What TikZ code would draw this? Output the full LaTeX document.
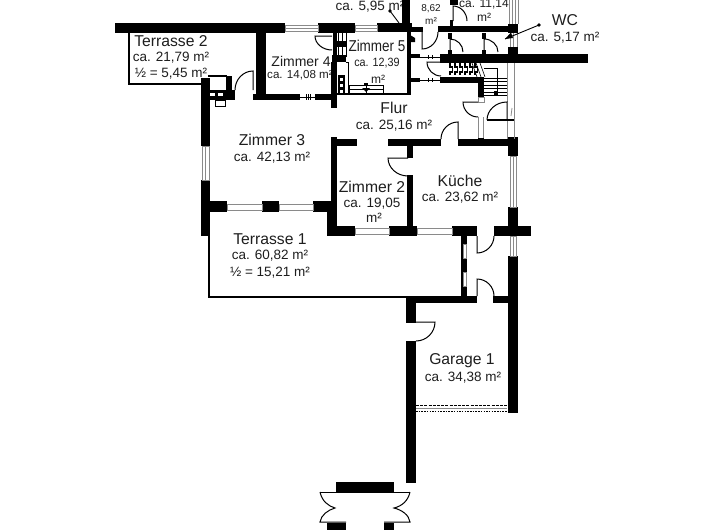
\documentclass[tikz,border=0pt]{standalone}
\usepackage{fontspec}
\setmainfont{Liberation Sans}
\usetikzlibrary{calc}
\definecolor{ink}{HTML}{1E1E1E}
\definecolor{wingray}{HTML}{8A8A8A}
\newcommand{\doorq}[3]{\draw[doorline] (#1) -- (#2) .. controls ($(#2)+.55*(#3)-.55*(#1)$) and ($(#3)+.55*(#2)-.55*(#1)$) .. (#3);}
\tikzset{
 x=1pt,y=-1pt,
 wallfill/.style={fill=black,draw=none},
 thinwall/.style={draw=black,line width=1.1pt},
 doorline/.style={draw=black,line width=1pt},
 winframe/.style={draw=wingray,line width=.8pt,fill=white},
 finewin/.style={draw=wingray,line width=.8pt},
 title/.style={font=\fontsize{15.7}{16}\selectfont,text=ink,inner sep=0pt,anchor=center},
 area/.style={font=\fontsize{13.5}{14}\selectfont,text=ink,inner sep=0pt,anchor=center},
 small/.style={font=\fontsize{12}{13}\selectfont,text=ink,inner sep=0pt,anchor=center},
 tiny/.style={font=\fontsize{10}{11}\selectfont,text=ink,inner sep=0pt,anchor=center},
}
\begin{document}
\begin{tikzpicture}
\useasboundingbox (0,0) rectangle (720,530);
\fill[white] (0,0) rectangle (720,530);
% texts
\node[area] (a595) at (370,7) {ca. 5,95 m²};
\node[tiny] (ca862) at (431,-2.5) {ca.};
\node[tiny] (t862) at (431,9) {8,62};
\node[tiny] (m862) at (431,21) {m²};
\node[small] (a1114) at (484,4.5) {ca. 11,14};
\node[small] (m1114) at (484,17) {m²};
\node[title] (wc) at (565,20) {WC};
\node[area] (a517) at (565,38) {ca. 5,17 m²};
\node[title] (ter2) at (171,41) {Terrasse 2};
\node[area] (a2179) at (171,58) {ca. 21,79 m²};
\node[area] (a545) at (171,74) {½ = 5,45 m²};
\node[font=\fontsize{14}{15}\selectfont,text=ink,inner sep=0pt] (z4) at (301,61) {Zimmer 4};
\node[font=\fontsize{11.6}{13}\selectfont,text=ink,inner sep=0pt] (a1408) at (300,75) {ca. 14,08 m²};
\node[title,xscale=.86] (z5) at (377,46) {Zimmer 5};
\node[small,xscale=.9] (a1239) at (377,63) {ca. 12,39};
\node[small] (m1239) at (378,79) {m²};
\node[title] (flur) at (394,108) {Flur};
\node[area] (a2516) at (394,126) {ca. 25,16 m²};
\node[title] (z3) at (272,140) {Zimmer 3};
\node[area] (a4213) at (272,158) {ca. 42,13 m²};
\node[title] (z2) at (372,187) {Zimmer 2};
\node[area] (a1905) at (372,204) {ca. 19,05};
\node[area] (m1905) at (374,218) {m²};
\node[title] (kue) at (460,181) {Küche};
\node[area] (a2362) at (460,198) {ca. 23,62 m²};
\node[title] (ter1) at (270,239) {Terrasse 1};
\node[area] (a6082) at (270,256) {ca. 60,82 m²};
\node[area] (a1521) at (270,273) {½ = 15,21 m²};
\node[title] (gar) at (462,361) {Garage 1};
\node[area] (a3438) at (463,378) {ca. 34,38 m²};
% thin outlines
\fill[black] (128,33) rectangle (130,84);
\fill[black] (128,83) rectangle (202,85);
\fill[black] (208,212) rectangle (210,298);
\fill[black] (208,296) rectangle (406,298);
\fill[black] (337,93) rectangle (407,95);
\fill[black] (407,32) rectangle (411,95);
% walls
\foreach \a/\b/\c/\d in {
 115/23/285/33, 318/23/355/33, 377/23/412/32, 402/0/410/32, 410/27/423/32, 438/26/508/32,
 508/24/518/33, 508/47/518/63, 440/54/588/63,
 333/33/337/60, 332/55/346/62, 331/62/337/108, 338/75/345/93,
 256/33/266/100, 253/94/300/100, 315/94/332/100,
 201/78/210/146, 201/180/210/236, 207/90/235/100, 226/76/232/92,
 210/201/227/212, 262/201/279/212, 313/201/333/212,
 331/137/337/236, 331/139/357/146, 388/139/441/146, 458/139/508/146,
 508/137/518/156, 508/207/518/236, 508/256/518/413,
 407/146/413/158, 407/175/413/226,
 327/212/337/236, 327/226/355/236, 389/226/417/236, 452/226/477/236, 494/226/531/236,
 461/236/467/296, 406/296/477/303, 493/296/518/303,
 406/303/416/323, 406/341/416/483,
 410/54/420/58, 410/78/420/82, 440/77/484/83, 478/83/484/97, 478/138/484/146,
 450/0/458/5, 450/20/453/26, 448/33/452/39, 448/50/452/54, 482/33/486/39, 482/50/486/54,
 336/482/394/492, 327/523/346/530, 384/523/394/530
}{\fill[wallfill] (\a,\b) rectangle (\c,\d);}
% windows
\foreach \a/\b/\c/\d in {
 285/25/318/31, 355/25/377/31, 227/204/262/210, 279/204/313/210,
 355/228/389/234, 417/228/452/234,
 202/146/209/180, 510/156/516/207, 510/236/516/256,
 463/244/466/258, 463/272/466/286
}{\draw[winframe] (\a,\b) rectangle (\c,\d);}
\draw[finewin] (285,28) -- (318,28);
\draw[finewin] (355,28) -- (377,28);
\draw[finewin] (205.5,146) -- (205.5,180);
\draw[finewin] (513,156) -- (513,207);
\draw[finewin] (513,236) -- (513,256);
\foreach \x in {509,512,515,518}{\draw[finewin] (\x,0) -- (\x,24);}
\foreach \x in {510,513,517}{\draw[finewin] (\x,33) -- (\x,47);}
\draw[finewin] (507,63) -- (507,102);
\draw[finewin] (514,63) -- (514,120);
\draw[finewin] (507,120) -- (507,139);
\draw[finewin] (514,120) -- (514,139);
\draw[finewin] (478.5,117) -- (478.5,138);
\draw[finewin] (483.5,117) -- (483.5,138);
\draw[finewin] (478,97) rectangle (484,102);
\draw[finewin] (512,108) .. controls (510,111) and (513,113) .. (511,116);
% Zimmer 4/5 installations
\foreach \x in {338,342,346}{\draw[black,line width=.7pt] (\x,32) -- (\x,57);}
\fill[black] (336,41) rectangle (347,47);
\draw[thinwall,line width=.8pt] (346,62) -- (348,62) -- (348,95);
\foreach \y in {78,84,90}{\fill[white] (340,\y) rectangle (343,\y+3);}
\draw[black,line width=.8pt] (349,85) rectangle (383,93);
\draw[black,line width=.8pt] (349,89) -- (383,89);
\draw[black,line width=.8pt] (366,84) -- (366,94);
\fill[black] (364,83) rectangle (368,86);
\fill[black] (362,88) -- (370,88) -- (366,92) -- cycle;
\fill[black] (410,35) -- (415,38) -- (415,42) -- (411,42) -- cycle;
% hearth
\draw[black,line width=1.1pt] (208,76) -- (227,76);
\fill[white] (212,78) rectangle (226,90);
\fill[white] (210,93) rectangle (215,96);
\fill[white] (218,93) rectangle (223,96);
\draw[black,line width=.9pt] (215,100) rectangle (225,106);
% ticks
\draw[black,line width=.7pt] (300,97) -- (315,97);
\foreach \x in {306,308,310}{\draw[black,line width=.7pt] (\x,94) -- (\x,100);}
\draw[black,line width=.8pt] (420,57) -- (440,57);
\draw[black,line width=.8pt] (420,80) -- (440,80);
\foreach \x in {428,432}{\draw[black,line width=.7pt] (\x,55) -- (\x,59);\draw[black,line width=.7pt] (\x,78) -- (\x,82);}
% stair
\foreach \y in {78,81.5,85,88.5,92,95.5}{\draw[black,line width=.8pt] (484,\y) -- (507,\y);}
\draw[black,line width=.8pt] (484,68) -- (497,68) -- (497,93);
\fill[black] (494,91) rectangle (498,95);
\foreach \x in {450,455,460,465,470,475}{
 \draw[black,line width=1.5pt] (\x,63) -- (\x,67) -- (\x+2.5,67) -- (\x+2.5,72) -- (\x,72) -- (\x,75);}
\foreach \a in {472,476,480}{\draw[black,line width=.6pt] (\a,63) -- (\a+5,77);}
% doors
\doorq{253,90}{253,71}{235,90}
\doorq{332,36}{315,36}{332,50}
\doorq{422,32}{422,49}{438,32}
\doorq{453,21}{453,6}{467,21}
\doorq{450,52}{450,39}{463,52}
\doorq{484,52}{484,39}{498,52}
\doorq{441,62}{427,62}{441,76}
\doorq{478,102}{463,102}{478,117}
\doorq{507,120}{507,102}{487,120}
\draw[black,line width=1.3pt] (487,120) -- (514,120);
\doorq{458,139}{458,122}{441,139}
\doorq{408,158}{388,158}{408,176}
\doorq{477,236}{477,253}{494,236}
\doorq{477,296}{477,279}{494,296}
\doorq{416,322}{435,322}{416,341}
% garage door
\draw[black,line width=.8pt,dash pattern=on 3pt off 1.2pt] (416,405.5) -- (507,405.5);
\draw[wingray,line width=.8pt] (416,408.5) -- (507,408.5);
\draw[black,line width=.8pt,dash pattern=on 1.5pt off 1.2pt] (416,411.5) -- (507,411.5);
% entrance
\draw[doorline] (320,492) -- (410,492);
\draw[doorline] (320,492) .. controls (322,501) and (328,506) .. (335,508) .. controls (328,510) and (321,515) .. (320,522) -- (346,522);
\draw[doorline] (410,492) .. controls (408,501) and (402,506) .. (394,508) .. controls (402,510) and (409,515) .. (410,522) -- (384,522);
% leaders
\coordinate (wcdot) at (539,25);
\coordinate (wctip) at (505,39);
\coordinate (d595) at (390,11);
\coordinate (e595) at (399,23);
\fill[black] (wcdot) circle (1.9);
\draw[black,line width=.9pt] (wcdot) -- (wctip);
\fill[black] (wctip) -- (511,32.5) -- (513,38) -- cycle;
\fill[black] (d595) circle (1.9);
\draw[black,line width=.9pt] (d595) -- (e595);
\end{tikzpicture}
\end{document}
